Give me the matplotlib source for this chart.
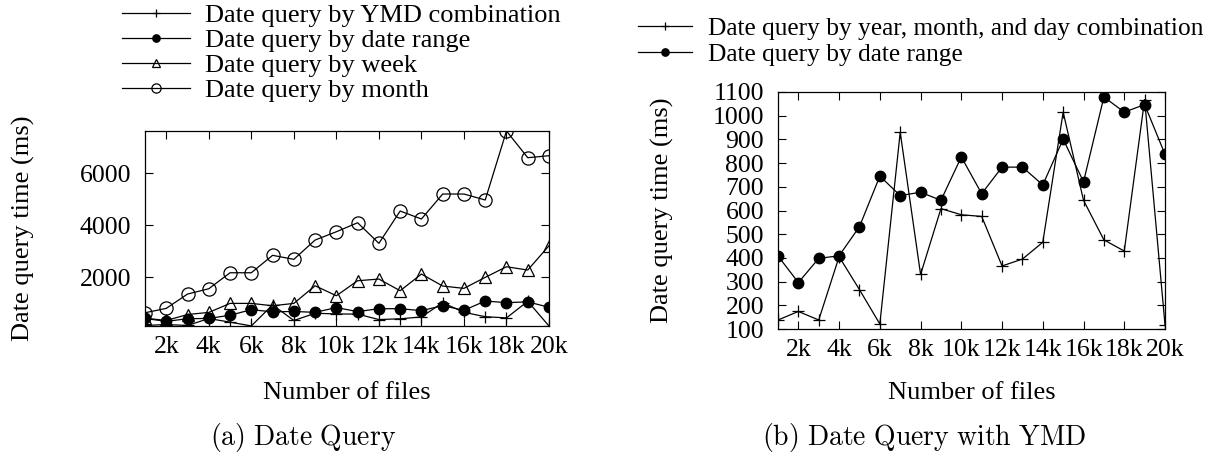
import matplotlib
matplotlib.use("Agg")
import matplotlib.pyplot as plt
from matplotlib.lines import Line2D

# Query times (ms) for 1k..20k files
num_files = [1000 * i for i in range(1, 21)]
tick_values = [2000 * i for i in range(1, 11)]
tick_labels = ["2k", "4k", "6k", "8k", "10k", "12k", "14k", "16k", "18k", "20k"]

ymd_ms = [138, 174, 138, 405, 266, 121, 930, 330, 608, 582,
          575, 366, 395, 466, 1015, 643, 476, 429, 1068, 118]
range_ms = [408, 296, 398, 409, 532, 745, 663, 677, 643, 826,
            671, 783, 783, 708, 901, 721, 1079, 1015, 1047, 837]
week_ms = [420, 330, 560, 640, 987, 987, 896, 987, 1665, 1281,
           1858, 1923, 1473, 2115, 1654, 1565, 1988, 2396, 2269, 3204]
month_ms = [627, 796, 1346, 1550, 2165, 2165, 2835, 2680, 3423, 3742,
            4088, 3296, 4538, 4231, 5192, 5192, 4962, 7615, 6588, 6665]

left_yticks = [2000, 4000, 6000]
right_yticks = list(range(100, 1101, 100))

labels_a = ["Date query by YMD combination", "Date query by date range",
            "Date query by week", "Date query by month"]
labels_b = ["Date query by year, month, and day combination",
            "Date query by date range"]

plt.rcParams["font.family"] = ["Liberation Serif", "DejaVu Serif"]
plt.rcParams["mathtext.fontset"] = "cm"

FS = 19
TFS = 18.5
W, H = 1220, 462
fig = plt.figure(figsize=(W / 100, H / 100), dpi=100)


def axes_px(x0, y0, x1, y1):
    return fig.add_axes([x0 / W, 1 - y1 / H, (x1 - x0) / W, (y1 - y0) / H])


styles = {
    "ymd": dict(marker="+", markersize=8.5, markeredgewidth=0.9),
    "range": dict(marker="o", markersize=7.5, markerfacecolor="black"),
    "week": dict(marker="^", markersize=9, markerfacecolor="none", markeredgewidth=0.9),
    "month": dict(marker="o", markersize=9.5, markerfacecolor="none", markeredgewidth=0.9),
}
LW = 0.9


def style_axes(ax):
    for s in ax.spines.values():
        s.set_linewidth(0.9)
    ax.tick_params(direction="in", length=6, width=0.8, top=True, right=True,
                   labelsize=TFS, colors="black")
    ax.tick_params(axis="y", pad=10)
    ax.tick_params(axis="x", pad=7)
    ax.set_xticks(tick_values)
    ax.set_xticklabels(tick_labels)
    ax.set_xlim(num_files[0], num_files[-1])


# (a) all date queries
ax1 = axes_px(145, 131, 549, 326)
ax1.plot(num_files, ymd_ms, color="black", lw=LW, **styles["ymd"])
ax1.plot(num_files, range_ms, color="black", lw=LW, **styles["range"])
ax1.plot(num_files, week_ms, color="black", lw=LW, **styles["week"])
ax1.plot(num_files, month_ms, color="black", lw=LW, **styles["month"])
style_axes(ax1)
all_vals = ymd_ms + range_ms + week_ms + month_ms
ax1.set_ylim(min(all_vals), max(all_vals))
ax1.set_yticks(left_yticks)
ax1.set_ylabel("Date query time (ms)", fontsize=FS)
ax1.yaxis.set_label_coords(-0.272, 0.5)
ax1.set_xlabel("Number of files", fontsize=FS)
ax1.xaxis.set_label_coords(0.5, -0.285)

# (b) YMD combination vs date range
ax2 = axes_px(778, 92, 1165, 329)
ax2.plot(num_files, ymd_ms, color="black", lw=LW, **styles["ymd"])
ax2.plot(num_files, range_ms, color="black", lw=LW, **styles["range"])
style_axes(ax2)
ax2.set_ylim(100, 1100)
ax2.set_yticks(right_yticks)
ax2.set_ylabel("Date query time (ms)", fontsize=FS)
ax2.yaxis.set_label_coords(-0.268, 0.5)
ax2.set_xlabel("Number of files", fontsize=FS)
ax2.xaxis.set_label_coords(0.5, -0.222)


# legend keys with smaller symbols
def key(name):
    st = dict(styles[name])
    st["markersize"] = st["markersize"] * 0.7
    return Line2D([], [], color="black", lw=LW, **st)


fig.legend([key("ymd"), key("range"), key("week"), key("month")], labels_a,
           loc="upper left", bbox_to_anchor=(122 / W, 1 - 4 / H),
           frameon=False, fontsize=FS, borderpad=0, borderaxespad=0,
           handlelength=2.58, handletextpad=0.57, labelspacing=0.05,
           numpoints=1)
fig.legend([key("ymd"), key("range")], labels_b,
           loc="upper left", bbox_to_anchor=(638 / W, 1 - 17 / H),
           frameon=False, fontsize=18.3, borderpad=0, borderaxespad=0,
           handlelength=2.13, handletextpad=0.63, labelspacing=0.14,
           numpoints=1)

fig.text(303 / W, 1 - 438 / H, r"$\mathrm{(a)\ Date\ Query}$",
         ha="center", va="center", fontsize=20)
fig.text(924 / W, 1 - 438 / H, r"$\mathrm{(b)\ Date\ Query\ with\ YMD}$",
         ha="center", va="center", fontsize=20)

fig.savefig("out.png", dpi=100)
